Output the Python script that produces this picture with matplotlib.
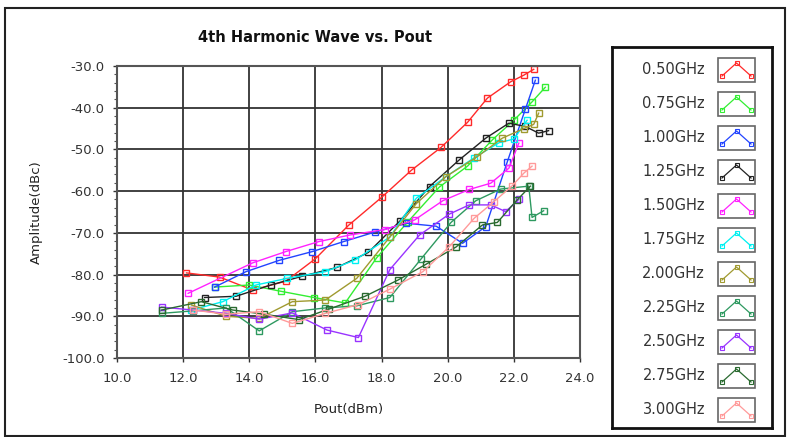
import matplotlib.pyplot as plt
from matplotlib.patches import Rectangle
from matplotlib.ticker import MultipleLocator

labels = ["0.50GHz", "0.75GHz", "1.00GHz", "1.25GHz", "1.50GHz", "1.75GHz",
          "2.00GHz", "2.25GHz", "2.50GHz", "2.75GHz", "3.00GHz"]
colors = ["#ff2a2a", "#33ee33", "#2244ff", "#222222", "#ff22ff", "#00f0f0",
          "#a09a30", "#2e9960", "#9933ff", "#2a6a30", "#ff9a9a"]

pout_050 = [12.1, 13.1, 14.1, 15.1, 16.0, 17.0, 18.0, 18.9, 19.8, 20.6, 21.2, 21.9, 22.3, 22.6]
amp_050 = [-79.6, -80.6, -83.7, -81.6, -76.2, -68.2, -61.5, -55.0, -49.5, -43.5, -37.7, -33.8, -32.2, -30.8]

pout_075 = [12.95, 14.0, 14.95, 15.95, 16.9, 17.85, 18.8, 19.75, 20.6, 21.35, 22.0, 22.55, 22.95]
amp_075 = [-83.0, -82.5, -84.0, -85.5, -86.8, -76.0, -67.3, -59.0, -54.0, -47.7, -43.0, -38.6, -35.1]

pout_100 = [12.95, 13.9, 14.9, 15.9, 16.85, 17.8, 18.75, 19.65, 20.45, 21.15, 21.8, 22.35, 22.65]
amp_100 = [-83.0, -79.3, -76.6, -74.5, -72.1, -69.8, -67.7, -68.4, -72.5, -68.5, -53.0, -40.3, -33.4]

pout_125 = [12.65, 13.6, 14.65, 15.6, 16.65, 17.6, 18.55, 19.45, 20.35, 21.15, 21.85, 22.35, 22.75, 23.05]
amp_125 = [-85.5, -85.2, -82.5, -80.4, -78.3, -74.7, -67.2, -58.9, -52.5, -47.3, -43.7, -44.5, -46.1, -45.5]

pout_150 = [12.15, 14.1, 15.1, 16.1, 17.05, 18.1, 19.0, 19.85, 20.65, 21.3, 21.85, 22.15]
amp_150 = [-84.5, -77.2, -74.5, -72.1, -70.5, -69.2, -66.9, -62.3, -59.6, -58.1, -54.5, -48.5]

pout_175 = [12.25, 13.2, 14.2, 15.15, 16.3, 17.2, 18.25, 19.05, 19.95, 20.8, 21.55, 22.0, 22.4]
amp_175 = [-88.5, -86.5, -82.5, -80.9, -79.3, -76.5, -71.0, -61.7, -56.5, -52.0, -48.4, -47.5, -43.0]

pout_200 = [12.25, 13.3, 14.3, 15.3, 16.3, 17.25, 18.25, 19.05, 19.95, 20.9, 21.65, 22.3, 22.6, 22.75]
amp_200 = [-87.3, -90.0, -90.5, -86.5, -86.1, -80.9, -71.0, -63.0, -56.5, -51.7, -47.3, -45.0, -44.0, -41.3]

pout_225 = [11.35, 12.3, 13.3, 14.3, 15.3, 16.3, 17.25, 18.25, 19.2, 20.1, 20.85, 21.6, 22.45, 22.55, 22.9]
amp_225 = [-89.3, -88.7, -88.0, -93.5, -88.9, -88.0, -87.5, -85.5, -76.2, -67.5, -62.3, -59.5, -58.8, -66.3, -64.7]

pout_250 = [11.35, 12.3, 13.3, 14.3, 15.3, 16.35, 17.3, 18.25, 19.15, 20.05, 20.65, 21.3, 21.75, 22.15]
amp_250 = [-87.8, -88.5, -89.3, -90.7, -89.2, -93.3, -95.1, -78.8, -70.5, -65.5, -63.3, -63.3, -64.9, -62.0]

pout_275 = [11.35, 12.55, 13.5, 14.45, 15.5, 16.4, 17.5, 18.5, 19.35, 20.25, 21.05, 21.5, 22.1, 22.5]
amp_275 = [-88.5, -86.5, -88.5, -89.5, -90.8, -88.3, -85.2, -81.3, -77.5, -73.4, -68.1, -67.5, -62.1, -58.8]

pout_300 = [12.3, 13.3, 14.3, 15.3, 16.3, 17.3, 18.25, 19.25, 20.05, 20.8, 21.4, 21.95, 22.3, 22.55]
amp_300 = [-88.5, -89.5, -88.9, -91.7, -89.3, -87.2, -83.5, -79.3, -73.3, -66.5, -62.5, -58.7, -55.7, -54.0]

series = [(pout_050, amp_050), (pout_075, amp_075), (pout_100, amp_100),
          (pout_125, amp_125), (pout_150, amp_150), (pout_175, amp_175),
          (pout_200, amp_200), (pout_225, amp_225), (pout_250, amp_250),
          (pout_275, amp_275), (pout_300, amp_300)]

x_ticks = [10, 12, 14, 16, 18, 20, 22, 24]
y_ticks = [-100, -90, -80, -70, -60, -50, -40, -30]

plt.rcParams["font.family"] = ["DejaVu Sans"]

W, H = 791, 437
fig = plt.figure(figsize=(W / 100, H / 100), dpi=100)
fig.patches.append(Rectangle((5 / W, 1 / H), 780 / W, 428 / H, transform=fig.transFigure,
                             fill=False, edgecolor="#222222", linewidth=1.5))

ax = fig.add_axes([117 / W, 1 - 358 / H, 463 / W, 292 / H])
for (xs, ys), col in zip(series, colors):
    ax.plot(xs, ys, color=col, linewidth=1.0, marker="s", markersize=4.5,
            markerfacecolor="none", markeredgewidth=1.0)

ax.set_xlim(10, 24)
ax.set_ylim(-100, -30)
ax.set_xticks(x_ticks)
ax.set_yticks(y_ticks)
ax.set_xticklabels([f"{v:.1f}" for v in x_ticks])
ax.set_yticklabels([f"{v:.1f}" for v in y_ticks])
ax.yaxis.set_minor_locator(MultipleLocator(2))
ax.tick_params(axis="both", labelsize=9.5, colors="#333333", length=3, width=1)
ax.tick_params(axis="x", pad=7)
ax.tick_params(axis="y", pad=6)
ax.tick_params(axis="y", which="minor", length=2, width=0.8, color="#555555")
ax.grid(True, which="major", color="#333333", linewidth=1.3)
ax.set_axisbelow(True)
for sp in ax.spines.values():
    sp.set_color("#555555")
    sp.set_linewidth(1.5)

ax.set_xlabel("Pout(dBm)", fontsize=9.5, color="#222222", labelpad=13)
ax.set_ylabel("Amplitude(dBc)", fontsize=9.5, color="#222222", labelpad=14)
fig.text(315 / W, 1 - 38 / H, "4th Harmonic Wave vs. Pout", ha="center", va="center",
         fontsize=10.5, fontweight="bold", color="#111111")

# legend panel
lg = fig.add_axes([612 / W, 1 - 428 / H, 160 / W, 381 / H])
lg.set_xlim(0, 160)
lg.set_ylim(381, 0)
lg.set_xticks([])
lg.set_yticks([])
for sp in lg.spines.values():
    sp.set_color("#111111")
    sp.set_linewidth(2)
for i, (lab, col) in enumerate(zip(labels, colors)):
    cy = 23 + i * 34
    lg.text(93, cy, lab, ha="right", va="center", fontsize=10.5, color="#333333")
    lg.add_patch(Rectangle((106, cy - 12), 37, 24, fill=False, edgecolor="#666666", linewidth=1.2))
    lg.plot([110, 124.5, 139], [cy + 6, cy - 7, cy + 6], color=col, linewidth=0.9,
            marker="s", markersize=3, markerfacecolor="none", markeredgewidth=0.8)

fig.savefig("out.png", dpi=100)
